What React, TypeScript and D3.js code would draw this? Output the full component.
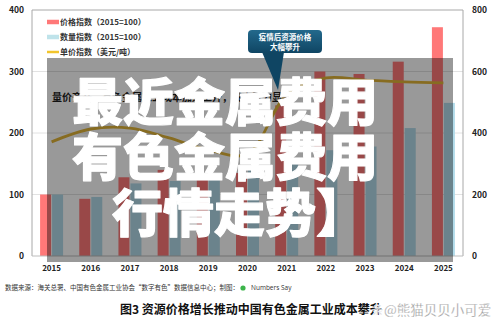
import React from "react";
import * as d3 from "d3";

const years = ["2015","2016","2017","2018","2019","2020","2021","2022","2023","2024","2025"];
const priceIndex = [100, 93, 128, 140, 133, 135, 245, 300, 296, 316, 372];
const quantityIndex = [100, 96, 118, 122, 125, 145, 150, 172, 178, 208, 249];
const unitPriceIndex = [371, 413, 416, 384, 345, 332, 524, 579, 572, 566, 563];
const leftTicks = [0, 100, 200, 300, 400];
const rightTicks = [0, 200, 400, 600, 800];
const legendLabels = ["价格指数（2015=100）", "数量指数（2015=100）", "单价指数（美元/吨）"];
const overlayLines = ["最近金属费用", "有色金属费用", "行情走势】"];

const W = 500, H = 323;
const L = 32, R = 463, T = 10, B = 256;
const RED = "#ff7878", BLUE = "#b2dbea", GOLD = "#e2b538";
const FONT = "'Noto Sans CJK SC','Noto Sans',sans-serif";

export default function App() {
  const x = d3.scaleBand<string>().domain(years).range([L, R]).padding(0);
  const yL = d3.scaleLinear().domain([0, 400]).range([B, T]);
  const yR = d3.scaleLinear().domain([0, 800]).range([B, T]);
  const bw = 11;
  const cx = (y: string) => (x(y) as number) + x.bandwidth() / 2;
  const line = d3.line<number>()
    .x((_, i) => cx(years[i]))
    .y(v => yR(v))
    .curve(d3.curveCatmullRom.alpha(0.5));

  return (
    <div style={{ position: "absolute", left: 0, top: 0 }}>
      <svg width={W} height={H} viewBox={`0 0 ${W} ${H}`} style={{ display: "block", background: "#fff", fontFamily: FONT }}>
        {leftTicks.slice(1, -1).map(t => (
          <line key={t} x1={L} x2={R} y1={yL(t)} y2={yL(t)} stroke="#e2e2e2" strokeWidth={1} />
        ))}
        {years.map((yr, i) => (
          <g key={yr}>
            <rect x={cx(yr) - bw - 0.5} y={yL(priceIndex[i])} width={bw} height={B - yL(priceIndex[i])} fill={RED} />
            <rect x={cx(yr) + 0.5} y={yL(quantityIndex[i])} width={bw} height={B - yL(quantityIndex[i])} fill={BLUE} />
          </g>
        ))}
        <path d={line(unitPriceIndex) || ""} fill="none" stroke={GOLD} strokeWidth={2.8} />
        <path d={`M${L},${B}V${T}H${R}V${B}`} fill="none" stroke="#a8a8a8" strokeWidth={1} />
        <line x1={L} x2={R} y1={B} y2={B} stroke="#bdbdbd" strokeWidth={1} />
        {leftTicks.map(t => (
          <text key={t} x={24} y={yL(t) + 3} textAnchor="end" fontSize={8.5} fontWeight={700} fill="#222">{t}</text>
        ))}
        {rightTicks.map(t => (
          <text key={t} x={472} y={yR(t) + 3} textAnchor="start" fontSize={8.5} fontWeight={700} fill="#222">{t}</text>
        ))}
        {years.map(yr => (
          <text key={yr} x={cx(yr)} y={271} textAnchor="middle" fontSize={8} fontWeight={700} fill="#222">{yr}</text>
        ))}
        {legendLabels.map((lab, i) => (
          <g key={lab}>
            <line x1={47} x2={59} y1={22 + i * 15} y2={22 + i * 15} stroke={[RED, "#bfe3ea", "#f2c52c"][i]} strokeWidth={i === 2 ? 2.5 : 4.5} />
            <text x={60} y={25 + i * 15} fontSize={8} fontWeight={700} fill="#333">{lab}</text>
          </g>
        ))}
        <rect x={47} y={58} width={406} height={204} fill="rgba(0,0,0,0.4)" />
        <text x={52} y={101} fontSize={10} fontWeight={700} fill="#111">量价齐升，有色金属工业成本加速上升，成本压力显著</text>
        <defs>
          <linearGradient id="cg" x1="0" y1="0" x2="0" y2="1">
            <stop offset="0" stopColor="#23698c" />
            <stop offset="1" stopColor="#0f4563" />
          </linearGradient>
        </defs>
        <path d="M262,52 L278,90 L284,52 Z" fill="#0f4563" />
        <rect x={248} y={30} width={74} height={23} rx={4} fill="url(#cg)" />
        <text x={285} y={40} textAnchor="middle" fontSize={7.5} fontWeight={700} fill="#fff">疫情后资源价格</text>
        <text x={285} y={50} textAnchor="middle" fontSize={7.5} fontWeight={700} fill="#fff">大幅攀升</text>
        <g fill="#fff" stroke="#fff" strokeWidth={1.1} strokeLinejoin="round" fontSize={51} fontWeight={900}>
          <text x={72} y={121}>{overlayLines[0]}</text>
          <text x={72} y={176}>{overlayLines[1]}</text>
          <text x={112} y={232}>{overlayLines[2]}</text>
        </g>
        <text x={5} y={290} fontSize={6.5} fill="#333">数据来源：海关总署、中国有色金属工业协会“数字有色”数据信息中心；制图：</text>
        <circle cx={243} cy={288} r={2.6} fill="#3cb44a" />
        <text x={251} y={290} fontSize={6.5} fill="#333" fontFamily="'Open Sans',sans-serif">Numbers Say</text>
        <text x={120} y={314} fontSize={12} fontWeight={700} fill="#111">图3  资源价格增长推动中国有色金属工业成本攀升</text>
        <text x={372} y={314} fontSize={11} fill="#9a9a9a" stroke="#fff" strokeWidth={0.4}>条</text>
        <text x={384} y={315} fontSize={13.5} fill="#8f8f8f" stroke="#fff" strokeWidth={0.3}>@熊猫贝贝小可爱</text>
      </svg>
    </div>
  );
}
